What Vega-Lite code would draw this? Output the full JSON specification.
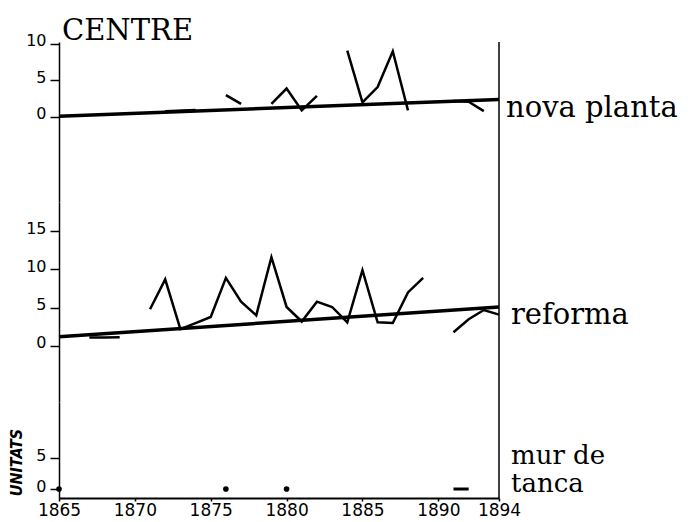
{
  "$schema": "https://vega.github.io/schema/vega-lite/v6.json",
  "padding": {"left": 8, "top": 16, "right": 5, "bottom": 3},
  "spacing": 0,
  "bounds": "flush",
  "config": {
    "view": {"stroke": null},
    "concat": {"spacing": 0},
    "axis": {
      "grid": false,
      "domainColor": "black",
      "tickColor": "black",
      "labelColor": "black",
      "titleColor": "black",
      "labelFont": "DejaVu Sans",
      "titleFont": "DejaVu Sans",
      "labelFontSize": 16,
      "labelOverlap": false,
      "labelFlush": false,
      "domainWidth": 1.5,
      "tickWidth": 1.5
    }
  },
  "datasets": {
    "nova": [
      {"serie": "tendencia", "tram": "t", "any": 1865, "unitats": 0.1},
      {"serie": "tendencia", "tram": "t", "any": 1894, "unitats": 2.4},
      {"serie": "dades", "tram": "a", "any": 1872, "unitats": 0.8},
      {"serie": "dades", "tram": "a", "any": 1874, "unitats": 0.95},
      {"serie": "dades", "tram": "b", "any": 1876, "unitats": 3.0},
      {"serie": "dades", "tram": "b", "any": 1877, "unitats": 1.8},
      {"serie": "dades", "tram": "c", "any": 1879, "unitats": 1.8},
      {"serie": "dades", "tram": "c", "any": 1880, "unitats": 3.9},
      {"serie": "dades", "tram": "c", "any": 1881, "unitats": 0.9},
      {"serie": "dades", "tram": "c", "any": 1882, "unitats": 2.9},
      {"serie": "dades", "tram": "d", "any": 1884, "unitats": 9.1},
      {"serie": "dades", "tram": "d", "any": 1885, "unitats": 2.0},
      {"serie": "dades", "tram": "d", "any": 1886, "unitats": 4.1},
      {"serie": "dades", "tram": "d", "any": 1887, "unitats": 9.0},
      {"serie": "dades", "tram": "d", "any": 1888, "unitats": 0.9},
      {"serie": "dades", "tram": "e", "any": 1891, "unitats": 2.2},
      {"serie": "dades", "tram": "e", "any": 1892, "unitats": 2.1},
      {"serie": "dades", "tram": "e", "any": 1893, "unitats": 0.8}
    ],
    "reforma": [
      {"serie": "tendencia", "tram": "t", "any": 1865, "unitats": 1.2},
      {"serie": "tendencia", "tram": "t", "any": 1894, "unitats": 5.1},
      {"serie": "dades", "tram": "a", "any": 1867, "unitats": 1.1},
      {"serie": "dades", "tram": "a", "any": 1868, "unitats": 1.1},
      {"serie": "dades", "tram": "a", "any": 1869, "unitats": 1.15},
      {"serie": "dades", "tram": "b", "any": 1871, "unitats": 4.8},
      {"serie": "dades", "tram": "b", "any": 1872, "unitats": 8.7},
      {"serie": "dades", "tram": "b", "any": 1873, "unitats": 2.2},
      {"serie": "dades", "tram": "b", "any": 1874, "unitats": 3.0},
      {"serie": "dades", "tram": "b", "any": 1875, "unitats": 3.8},
      {"serie": "dades", "tram": "b", "any": 1876, "unitats": 8.9},
      {"serie": "dades", "tram": "b", "any": 1877, "unitats": 5.8},
      {"serie": "dades", "tram": "b", "any": 1878, "unitats": 4.0},
      {"serie": "dades", "tram": "b", "any": 1879, "unitats": 11.6},
      {"serie": "dades", "tram": "b", "any": 1880, "unitats": 5.1},
      {"serie": "dades", "tram": "b", "any": 1881, "unitats": 3.2},
      {"serie": "dades", "tram": "b", "any": 1882, "unitats": 5.8},
      {"serie": "dades", "tram": "b", "any": 1883, "unitats": 5.1},
      {"serie": "dades", "tram": "b", "any": 1884, "unitats": 3.1},
      {"serie": "dades", "tram": "b", "any": 1885, "unitats": 9.9},
      {"serie": "dades", "tram": "b", "any": 1886, "unitats": 3.1},
      {"serie": "dades", "tram": "b", "any": 1887, "unitats": 3.0},
      {"serie": "dades", "tram": "b", "any": 1888, "unitats": 7.0},
      {"serie": "dades", "tram": "b", "any": 1889, "unitats": 8.9},
      {"serie": "dades", "tram": "c", "any": 1891, "unitats": 1.8},
      {"serie": "dades", "tram": "c", "any": 1892, "unitats": 3.5},
      {"serie": "dades", "tram": "c", "any": 1893, "unitats": 4.7},
      {"serie": "dades", "tram": "c", "any": 1894, "unitats": 4.1}
    ],
    "mur": [
      {"serie": "punt", "tram": "p1", "any": 1865, "unitats": 0},
      {"serie": "punt", "tram": "p2", "any": 1876, "unitats": 0},
      {"serie": "punt", "tram": "p3", "any": 1880, "unitats": 0},
      {"serie": "dades", "tram": "a", "any": 1891, "unitats": 0},
      {"serie": "dades", "tram": "a", "any": 1892, "unitats": 0}
    ]
  },
  "vconcat": [
    {
      "width": 440,
      "height": 160,
      "layer": [
        {
          "data": {"name": "nova"},
          "transform": [{"filter": "datum.serie == 'tendencia'"}],
          "mark": {"type": "line", "color": "black", "strokeWidth": 3.5},
          "encoding": {
            "x": {"field": "any", "type": "quantitative", "scale": {"domain": [1865, 1894], "nice": false, "zero": false}, "axis": null},
            "y": {"field": "unitats", "type": "quantitative", "scale": {"domain": [-11.64, 10.27], "nice": false, "zero": false},
                  "axis": {"values": [0, 5, 10], "title": null, "tickSize": 9, "labelPadding": 4, "labelOffset": -3}}
          }
        },
        {
          "data": {"name": "nova"},
          "transform": [{"filter": "datum.serie == 'dades'"}],
          "mark": {"type": "line", "color": "black", "strokeWidth": 2.5},
          "encoding": {
            "x": {"field": "any", "type": "quantitative"},
            "y": {"field": "unitats", "type": "quantitative"},
            "detail": {"field": "tram"}
          }
        },
        {
          "data": {"values": [{}]},
          "mark": {"type": "rule", "color": "black", "strokeWidth": 1.5},
          "encoding": {"x": {"datum": 1894}}
        },
        {
          "data": {"values": [{}]},
          "mark": {"type": "text", "text": "nova planta", "align": "left", "baseline": "alphabetic", "dx": 7, "font": "DejaVu Serif", "fontSize": 29, "color": "black"},
          "encoding": {"x": {"datum": 1894}, "y": {"datum": 0}}
        },
        {
          "data": {"values": [{}]},
          "mark": {"type": "text", "text": "CENTRE", "align": "left", "baseline": "alphabetic", "dx": 3, "font": "DejaVu Serif", "fontSize": 29, "color": "black"},
          "encoding": {"x": {"datum": 1865}, "y": {"datum": 10.6}}
        }
      ]
    },
    {
      "width": 440,
      "height": 200,
      "layer": [
        {
          "data": {"name": "reforma"},
          "transform": [{"filter": "datum.serie == 'tendencia'"}],
          "mark": {"type": "line", "color": "black", "strokeWidth": 3.5},
          "encoding": {
            "x": {"field": "any", "type": "quantitative", "scale": {"domain": [1865, 1894], "nice": false, "zero": false}, "axis": null},
            "y": {"field": "unitats", "type": "quantitative", "scale": {"domain": [-7.32, 18.82], "nice": false, "zero": false},
                  "axis": {"values": [0, 5, 10, 15], "title": null, "tickSize": 9, "labelPadding": 4, "labelOffset": -3}}
          }
        },
        {
          "data": {"name": "reforma"},
          "transform": [{"filter": "datum.serie == 'dades'"}],
          "mark": {"type": "line", "color": "black", "strokeWidth": 2.5},
          "encoding": {
            "x": {"field": "any", "type": "quantitative"},
            "y": {"field": "unitats", "type": "quantitative"},
            "detail": {"field": "tram"}
          }
        },
        {
          "data": {"values": [{}]},
          "mark": {"type": "rule", "color": "black", "strokeWidth": 1.5},
          "encoding": {"x": {"datum": 1894}}
        },
        {
          "data": {"values": [{}]},
          "mark": {"type": "text", "text": "reforma", "align": "left", "baseline": "alphabetic", "dx": 12, "font": "DejaVu Serif", "fontSize": 29, "color": "black"},
          "encoding": {"x": {"datum": 1894}, "y": {"datum": 2.9}}
        }
      ]
    },
    {
      "width": 440,
      "height": 96,
      "layer": [
        {
          "data": {"name": "mur"},
          "transform": [{"filter": "datum.serie == 'dades'"}],
          "mark": {"type": "line", "color": "black", "strokeWidth": 3},
          "encoding": {
            "x": {"field": "any", "type": "quantitative", "scale": {"domain": [1865, 1894], "nice": false, "zero": false},
                  "axis": {"values": [1865, 1870, 1875, 1880, 1885, 1890, 1894], "format": "d", "title": null, "labelFontSize": 17, "tickSize": 3, "labelPadding": 1, "domainWidth": 2}},
            "y": {"field": "unitats", "type": "quantitative", "scale": {"domain": [-1.45, 14.03], "nice": false, "zero": false},
                  "axis": {"values": [0, 5], "title": "UNITATS", "titleFont": "DejaVu Sans Condensed", "titleFontSize": 16, "titleFontWeight": "bold", "titleFontStyle": "italic", "titleAngle": 270, "titleAlign": "center", "titleBaseline": "middle", "titleX": -43, "titleY": 60, "tickSize": 9, "labelPadding": 4, "labelOffset": -3}},
            "detail": {"field": "tram"}
          }
        },
        {
          "data": {"name": "mur"},
          "transform": [{"filter": "datum.serie == 'punt'"}],
          "mark": {"type": "point", "filled": true, "color": "black", "size": 32, "opacity": 1},
          "encoding": {
            "x": {"field": "any", "type": "quantitative"},
            "y": {"field": "unitats", "type": "quantitative"}
          }
        },
        {
          "data": {"values": [{}]},
          "mark": {"type": "rule", "color": "black", "strokeWidth": 1.5},
          "encoding": {"x": {"datum": 1894}}
        },
        {
          "data": {"values": [{}]},
          "mark": {"type": "text", "text": "mur de", "align": "left", "baseline": "alphabetic", "dx": 12, "font": "DejaVu Serif", "fontSize": 26, "color": "black"},
          "encoding": {"x": {"datum": 1894}, "y": {"datum": 4.1}}
        },
        {
          "data": {"values": [{}]},
          "mark": {"type": "text", "text": "tanca", "align": "left", "baseline": "alphabetic", "dx": 12, "font": "DejaVu Serif", "fontSize": 26, "color": "black"},
          "encoding": {"x": {"datum": 1894}, "y": {"datum": -0.5}}
        }
      ]
    }
  ]
}
